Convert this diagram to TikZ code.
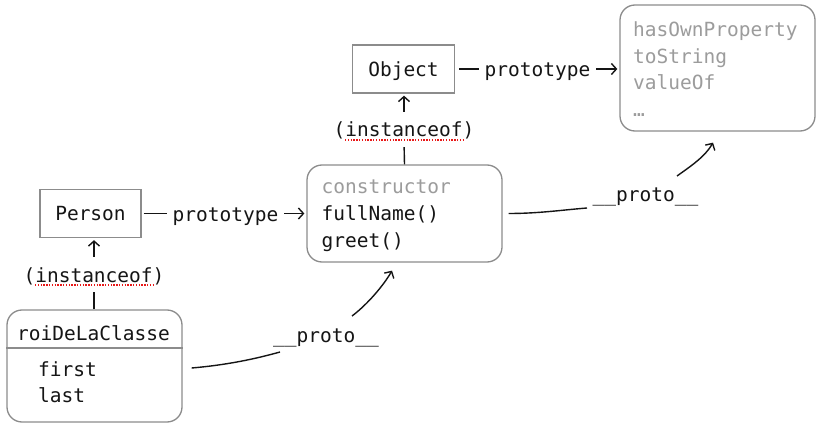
\documentclass[tikz,border=0pt]{standalone}
\usepackage{fontspec}
\setmonofont{DejaVu Sans Mono}
\usetikzlibrary{arrows.meta}
\definecolor{boxgray}{HTML}{8C8C8C}
\definecolor{txtgray}{HTML}{9C9C9C}
\definecolor{ink}{HTML}{151515}
\definecolor{spellred}{HTML}{E81818}
\begin{document}
\begin{tikzpicture}[x=1pt,y=-1pt,
  every node/.style={font=\ttfamily\fontsize{19.5}{26.5}\selectfont, text=ink},
  sqbox/.style={draw=boxgray, line width=1.3pt, inner sep=0pt, minimum height=48pt, text height=14.5pt, text depth=0pt},
  rbox/.style={draw=boxgray, line width=1.3pt, rounded corners=15pt, inner sep=0pt},
  lbl/.style={inner ysep=0pt, inner xsep=5.5pt, text height=15pt, text depth=4pt, anchor=base},
  item/.style={inner sep=0pt, anchor=base west},
  conn/.style={draw=ink, line width=1.4pt},
  arr/.style={conn, -{Straight Barb[length=5pt,width=11pt]}},
  spellline/.style={draw=spellred, line width=1.4pt, dash pattern=on 1.4pt off 1.4pt}
]
\useasboundingbox (0,0) rectangle (820,433);
\fill[white] (0,0) rectangle (820,433);

% boxes
\node[sqbox, minimum width=102pt] (obj) at (403.5,69) {Object};
\node[sqbox, minimum width=101pt] (person) at (90.5,213.5) {Person};
\node[rbox, minimum width=195pt, minimum height=126pt] (top) at (717.5,68) {};
\node[rbox, minimum width=195pt, minimum height=97pt] (mid) at (404.5,213.5) {};
\node[rbox, minimum width=175pt, minimum height=112pt] (roi) at (94.5,366) {};

% box contents
\node[item, text=txtgray] (t1) at (633,37) {hasOwnProperty};
\node[item, text=txtgray] (t2) at (633,63.5) {toString};
\node[item, text=txtgray] (t3) at (633,90) {valueOf};
\node[item, text=txtgray] (t4) at (633,116.5) {…};

\node[item, text=txtgray] (m1) at (321.5,194) {constructor};
\node[item] (m2) at (321.5,220.8) {fullName()};
\node[item] (m3) at (321.5,247.6) {greet()};

\node[item] (r0) at (17,340) {roiDeLaClasse};
\draw[draw=boxgray, line width=1.3pt] ([shift={(0,-18)}]roi.west) -- ([shift={(0,-18)}]roi.east);
\node[item] (r1) at (38,376) {first};
\node[item] (r2) at (38,402) {last};

% prototype links
\node[lbl] (p1) at (537.5,77) {prototype};
\draw[conn, shorten <=4pt] (obj.east) -- (obj.east -| p1.west);
\draw[arr, shorten >=2pt] (p1.east |- obj.east) -- (top.west |- obj.east);

\node[lbl] (p2) at (225.5,222) {prototype};
\draw[conn, shorten <=2pt] (person.east) -- (person.east -| p2.west);
\draw[arr, shorten >=2pt] (p2.east |- person.east) -- (mid.west |- person.east);

% instanceof links
\node[lbl, inner xsep=0pt] (io1) at (404,137) {(instanceof)};
\draw[conn, shorten >=6pt] (mid.north) -- (io1.south);
\draw[arr, shorten <=10pt, shorten >=2pt] (io1.north) -- (io1.north |- obj.south);
\draw[spellline] ([shift={(11.7,3)}]io1.base west) -- ([shift={(-11.7,3)}]io1.base east);

\node[lbl, inner xsep=0pt] (io2) at (94,282) {(instanceof)};
\draw[conn, shorten >=6pt] (roi.north -| io2.south) -- (io2.south);
\draw[arr, shorten <=10pt, shorten >=2pt] (io2.north) -- (io2.north |- person.south);
\draw[spellline] ([shift={(11.7,3)}]io2.base west) -- ([shift={(-11.7,3)}]io2.base east);

% __proto__ links
\node[lbl] (lp) at (326,342) {\_\_proto\_\_};
\draw[conn] ([shift={(9,2)}]roi.east) .. controls +(35,-3) and +(-25,7) .. ([shift={(-46,10)}]lp.base);
\draw[arr] ([shift={(26,-26)}]lp.base) .. controls +(16,-12) and +(-8,14) .. ([shift={(-12.5,8)}]mid.south);

\node[lbl] (up) at (645.5,202) {\_\_proto\_\_};
\draw[conn] ([shift={(6,0)}]mid.east) .. controls +(30,0) and +(-25,2) .. ([shift={(-58.5,6)}]up.base);
\draw[arr] ([shift={(31.5,-26)}]up.base) .. controls +(14,-10) and +(-8,14) .. ([shift={(-4.5,11)}]top.south);
\end{tikzpicture}
\end{document}
